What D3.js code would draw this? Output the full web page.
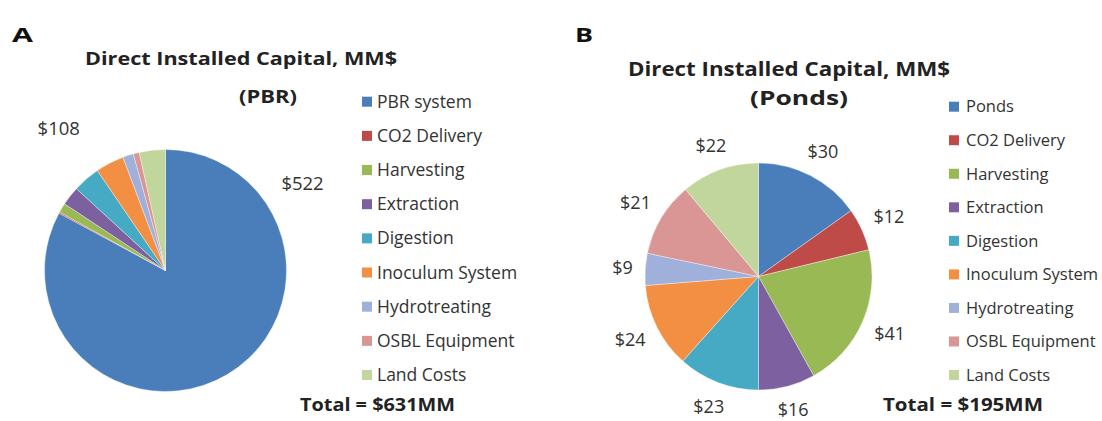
<!DOCTYPE html>
<html>
<head>
<meta charset="utf-8">
<script src="https://cdnjs.cloudflare.com/ajax/libs/d3/7.8.5/d3.min.js"></script>
<style>
  body { margin: 0; background: #fff; }
  svg { display: block; font-family: "Open Sans", sans-serif; }
</style>
</head>
<body>
<div id="chart"></div>
<script>
// --- data ---
const pbrCategories = ["PBR system", "CO2 Delivery", "Harvesting", "Extraction", "Digestion",
  "Inoculum System", "Hydrotreating", "OSBL Equipment", "Land Costs"];
const pbrValues = [522, 1, 8, 16, 23, 24, 9, 5, 22];
const pbrTotal = 631;

const pondCategories = ["Ponds", "CO2 Delivery", "Harvesting", "Extraction", "Digestion",
  "Inoculum System", "Hydrotreating", "OSBL Equipment", "Land Costs"];
const pondValues = [30, 12, 41, 16, 23, 24, 9, 21, 22];
const pondTotal = 195;

const sliceColors = ["#4a7ebb", "#be4b48", "#98b954", "#7d60a0", "#46aac5",
  "#f38f43", "#9fb0da", "#d99694", "#c1d69c"];

const W = 1102, H = 421;

const svg = d3.select("#chart").append("svg")
  .attr("width", W)
  .attr("height", H);

const color = d3.scaleOrdinal().domain(d3.range(9)).range(sliceColors);

// Excel style pie: starts at 12 o'clock, clockwise, data order kept
const pie = d3.pie().sort(null).value(d => d.value);

// the source figure is a bit stretched sideways, so bold headings get a fitted width
function heading(x, y, size, width, txt) {
  return svg.append("text")
    .attr("x", x)
    .attr("y", y)
    .attr("textLength", width)
    .attr("lengthAdjust", "spacingAndGlyphs")
    .style("font-size", size + "px")
    .style("font-weight", "bold")
    .attr("fill", "#222")
    .text(txt);
}

function drawPanel(cfg) {
  const data = cfg.categories.map((c, i) => ({name: c, value: cfg.values[i], i: i}));
  const arcs = pie(data);
  const arc = d3.arc().innerRadius(0).outerRadius(cfg.r);

  const g = svg.append("g")
    .attr("transform", `translate(${cfg.cx},${cfg.cy})`);

  g.selectAll("path.slice")
    .data(arcs)
    .join("path")
    .attr("class", "slice")
    .attr("d", arc)
    .attr("fill", d => color(d.data.i))
    .attr("stroke", "#ffffff")
    .attr("stroke-opacity", 0.6)
    .attr("stroke-width", 0.6);

  // panel letter, titles, total
  heading(cfg.letter.x, 42, 20, cfg.letter.w, cfg.letter.t).attr("fill", "#111");
  heading(cfg.title.x, cfg.title.y, cfg.title.fs, cfg.title.w, "Direct Installed Capital, MM$");
  heading(cfg.sub.x, cfg.sub.y, cfg.sub.fs, cfg.sub.w, cfg.sub.t);
  heading(cfg.totalX, 411, 17.5, cfg.totalW, `Total = $${cfg.total}MM`);

  // legend
  const ly = d3.scalePoint()
    .domain(cfg.categories)
    .range(cfg.legendRange);

  const leg = svg.append("g").attr("class", "legend");
  const rows = leg.selectAll("g")
    .data(data)
    .join("g")
    .attr("transform", d => `translate(${cfg.legendX},${ly(d.name)})`);

  rows.append("rect")
    .attr("x", 0)
    .attr("y", -5)
    .attr("width", 10)
    .attr("height", 10)
    .attr("fill", d => color(d.i));

  rows.append("text")
    .attr("x", cfg.legendTextDx)
    .attr("y", 0)
    .attr("dy", "0.35em")
    .style("font-size", cfg.legendFont)
    .attr("fill", "#333")
    .text(d => d.name);

  return {g: g, arcs: arcs};
}

// --- panel A (PBR) ---
const A = drawPanel({
  categories: pbrCategories, values: pbrValues, total: pbrTotal,
  cx: 165.5, cy: 270.5, r: 121,
  letter: {t: "A", x: 12, w: 21},
  title: {x: 85, y: 65, fs: 18, w: 312},
  sub: {t: "(PBR)", x: 239, y: 103, fs: 18, w: 58},
  legendX: 362, legendTextDx: 15, legendRange: [101.7, 375], legendFont: "17.5px",
  totalX: 300, totalW: 155
});

// labels in panel A were moved by hand in the original; one for the big slice,
// one for the sum of all the small ones
const pbrOthers = d3.sum(pbrValues.slice(1));
const pbrLabels = [
  {text: "$" + pbrValues[0], angle: 57.7, dist: 1.34},
  {text: "$" + pbrOthers, angle: -36.9, dist: 1.47}
];
A.g.selectAll("text.lbl")
  .data(pbrLabels)
  .join("text")
  .attr("class", "lbl")
  .attr("x", d => Math.sin(d.angle * Math.PI / 180) * d.dist * 121)
  .attr("y", d => -Math.cos(d.angle * Math.PI / 180) * d.dist * 121)
  .attr("dy", "0.35em")
  .attr("text-anchor", "middle")
  .style("font-size", "18.5px")
  .attr("fill", "#333")
  .text(d => d.text);

// --- panel B (Ponds) ---
const Bp = drawPanel({
  categories: pondCategories, values: pondValues, total: pondTotal,
  cx: 758.5, cy: 276.5, r: 113.5,
  letter: {t: "B", x: 575, w: 18},
  title: {x: 628, y: 76, fs: 19, w: 322},
  sub: {t: "(Ponds)", x: 750, y: 105, fs: 20, w: 98},
  legendX: 949, legendTextDx: 17, legendRange: [106.7, 375], legendFont: "16.5px",
  totalX: 883, totalW: 160
});

// outside-end labels, like Excel
const rB = 113.5, pad = 12;
const lblB = Bp.g.selectAll("text.lbl")
  .data(Bp.arcs)
  .join("text")
  .attr("class", "lbl")
  .attr("text-anchor", "middle")
  .attr("dy", "0.35em")
  .style("font-size", "18px")
  .attr("fill", "#333")
  .text(d => "$" + d.data.value);

lblB.each(function(d) {
  const a = (d.startAngle + d.endAngle) / 2;
  const w = this.getComputedTextLength(), h = 18;
  const s = Math.sin(a), c = Math.cos(a);
  const dist = rB + pad + Math.abs(s) * w / 2 + Math.abs(c) * h / 2;
  d3.select(this)
    .attr("x", s * dist)
    .attr("y", -c * dist);
});
</script>
</body>
</html>
